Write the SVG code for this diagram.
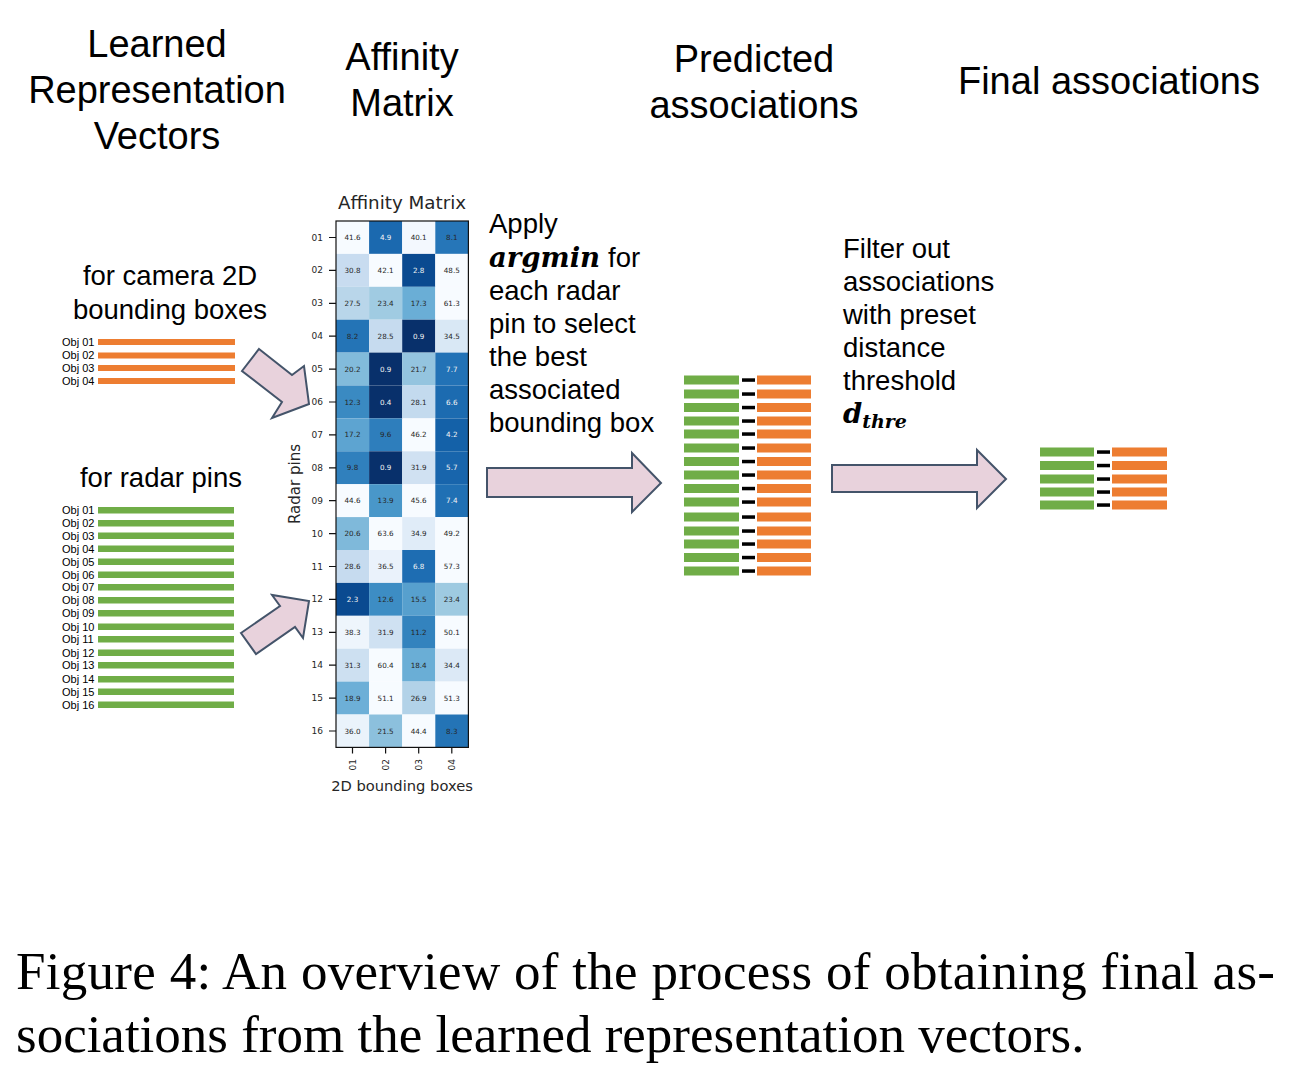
<svg xmlns="http://www.w3.org/2000/svg" width="1295" height="1070" viewBox="0 0 1295 1070">
<style>
.h{font-family:"Liberation Sans",Arial,sans-serif;font-size:38px;fill:#000;text-anchor:middle}
.t{font-family:"Liberation Sans",Arial,sans-serif;font-size:27.5px;fill:#000}
.m{font-family:"DejaVu Serif",serif;font-weight:bold;font-style:italic;fill:#000}
.ob{font-family:"Liberation Sans",Arial,sans-serif;font-size:11px;fill:#000}
.og{fill:#ed7d31}
.gr{fill:#70ad47}
.ds{fill:#000}
.mp{font-family:"DejaVu Sans",sans-serif;fill:#262626}
.tk{font-size:9px}
.cv{font-size:7.2px;text-anchor:middle;dominant-baseline:central}
.wt{fill:#f4f4f4}
.arr{fill:#e8d2dc;stroke:#44546a;stroke-width:2;stroke-linejoin:miter}
.cap{font-family:"Liberation Serif","Times New Roman",serif;font-size:53px;fill:#000}
</style>

<g id="headings">
<text class="h" x="157" y="57">Learned</text>
<text class="h" x="157" y="103">Representation</text>
<text class="h" x="157" y="149">Vectors</text>
<text class="h" x="402" y="70">Affinity</text>
<text class="h" x="402" y="116">Matrix</text>
<text class="h" x="754" y="72">Predicted</text>
<text class="h" x="754" y="118">associations</text>
<text class="h" x="1109" y="94">Final associations</text>
</g>

<g id="camera-boxes">
<text class="t" x="170" y="285" text-anchor="middle">for camera 2D</text>
<text class="t" x="170" y="319" text-anchor="middle">bounding boxes</text>
<text class="ob" x="62" y="346">Obj 01</text><rect class="og" x="98" y="339" width="137" height="6"/>
<text class="ob" x="62" y="359">Obj 02</text><rect class="og" x="98" y="352.5" width="137" height="6"/>
<text class="ob" x="62" y="372">Obj 03</text><rect class="og" x="98" y="365" width="137" height="6"/>
<text class="ob" x="62" y="385">Obj 04</text><rect class="og" x="98" y="378" width="137" height="6"/>
</g>

<g id="radar-pins">
<text class="t" x="161" y="487" text-anchor="middle">for radar pins</text>
<text class="ob" x="62" y="514">Obj 01</text><rect class="gr" x="98" y="507" width="136" height="6.5"/>
<text class="ob" x="62" y="527">Obj 02</text><rect class="gr" x="98" y="520" width="136" height="6.5"/>
<text class="ob" x="62" y="540">Obj 03</text><rect class="gr" x="98" y="532.5" width="136" height="6.5"/>
<text class="ob" x="62" y="553">Obj 04</text><rect class="gr" x="98" y="545.5" width="136" height="6.5"/>
<text class="ob" x="62" y="566">Obj 05</text><rect class="gr" x="98" y="558.5" width="136" height="6.5"/>
<text class="ob" x="62" y="579">Obj 06</text><rect class="gr" x="98" y="571.5" width="136" height="6.5"/>
<text class="ob" x="62" y="591">Obj 07</text><rect class="gr" x="98" y="584" width="136" height="6.5"/>
<text class="ob" x="62" y="604">Obj 08</text><rect class="gr" x="98" y="597" width="136" height="6.5"/>
<text class="ob" x="62" y="617">Obj 09</text><rect class="gr" x="98" y="610" width="136" height="6.5"/>
<text class="ob" x="62" y="631">Obj 10</text><rect class="gr" x="98" y="623.5" width="136" height="6.5"/>
<text class="ob" x="62" y="643">Obj 11</text><rect class="gr" x="98" y="636" width="136" height="6.5"/>
<text class="ob" x="62" y="657">Obj 12</text><rect class="gr" x="98" y="649.5" width="136" height="6.5"/>
<text class="ob" x="62" y="669">Obj 13</text><rect class="gr" x="98" y="662" width="136" height="6.5"/>
<text class="ob" x="62" y="683">Obj 14</text><rect class="gr" x="98" y="676" width="136" height="6.5"/>
<text class="ob" x="62" y="696">Obj 15</text><rect class="gr" x="98" y="688.5" width="136" height="6.5"/>
<text class="ob" x="62" y="709">Obj 16</text><rect class="gr" x="98" y="701.5" width="136" height="6.5"/>
</g>

<g id="affinity-matrix">
<text class="mp" x="402" y="209" font-size="18.3" text-anchor="middle">Affinity Matrix</text>
<g id="cells">
<rect x="336" y="221" width="33.1" height="32.9" fill="#f7fbff"/><rect x="369.1" y="221" width="33.1" height="32.9" fill="#1b69af"/><rect x="402.2" y="221" width="33.1" height="32.9" fill="#f3f8fe"/><rect x="435.3" y="221" width="33.1" height="32.9" fill="#2676b8"/>
<rect x="336" y="253.9" width="33.1" height="32.9" fill="#c8dcf0"/><rect x="369.1" y="253.9" width="33.1" height="32.9" fill="#f7fbff"/><rect x="402.2" y="253.9" width="33.1" height="32.9" fill="#0a4a90"/><rect x="435.3" y="253.9" width="33.1" height="32.9" fill="#f7fbff"/>
<rect x="336" y="286.8" width="33.1" height="32.9" fill="#b9d6ea"/><rect x="369.1" y="286.8" width="33.1" height="32.9" fill="#a0cbe2"/><rect x="402.2" y="286.8" width="33.1" height="32.9" fill="#6aaed6"/><rect x="435.3" y="286.8" width="33.1" height="32.9" fill="#f7fbff"/>
<rect x="336" y="319.7" width="33.1" height="32.9" fill="#2474b6"/><rect x="369.1" y="319.7" width="33.1" height="32.9" fill="#c6dbef"/><rect x="402.2" y="319.7" width="33.1" height="32.9" fill="#08306b"/><rect x="435.3" y="319.7" width="33.1" height="32.9" fill="#d9e8f5"/>
<rect x="336" y="352.6" width="33.1" height="32.9" fill="#82bbdb"/><rect x="369.1" y="352.6" width="33.1" height="32.9" fill="#08306b"/><rect x="402.2" y="352.6" width="33.1" height="32.9" fill="#94c4df"/><rect x="435.3" y="352.6" width="33.1" height="32.9" fill="#2272b6"/>
<rect x="336" y="385.5" width="33.1" height="32.9" fill="#3a8ac2"/><rect x="369.1" y="385.5" width="33.1" height="32.9" fill="#08306b"/><rect x="402.2" y="385.5" width="33.1" height="32.9" fill="#c3daee"/><rect x="435.3" y="385.5" width="33.1" height="32.9" fill="#1c6bb0"/>
<rect x="336" y="418.4" width="33.1" height="32.9" fill="#5da4d1"/><rect x="369.1" y="418.4" width="33.1" height="32.9" fill="#2e7ebc"/><rect x="402.2" y="418.4" width="33.1" height="32.9" fill="#f7fbff"/><rect x="435.3" y="418.4" width="33.1" height="32.9" fill="#1461a8"/>
<rect x="336" y="451.3" width="33.1" height="32.9" fill="#3080bd"/><rect x="369.1" y="451.3" width="33.1" height="32.9" fill="#08306b"/><rect x="402.2" y="451.3" width="33.1" height="32.9" fill="#d0e1f2"/><rect x="435.3" y="451.3" width="33.1" height="32.9" fill="#1865ac"/>
<rect x="336" y="484.2" width="33.1" height="32.9" fill="#f7fbff"/><rect x="369.1" y="484.2" width="33.1" height="32.9" fill="#4997c9"/><rect x="402.2" y="484.2" width="33.1" height="32.9" fill="#f7fbff"/><rect x="435.3" y="484.2" width="33.1" height="32.9" fill="#2070b4"/>
<rect x="336" y="517.1" width="33.1" height="32.9" fill="#7fb9da"/><rect x="369.1" y="517.1" width="33.1" height="32.9" fill="#f7fbff"/><rect x="402.2" y="517.1" width="33.1" height="32.9" fill="#e0ecf8"/><rect x="435.3" y="517.1" width="33.1" height="32.9" fill="#f7fbff"/>
<rect x="336" y="550" width="33.1" height="32.9" fill="#c6dbef"/><rect x="369.1" y="550" width="33.1" height="32.9" fill="#eaf2fb"/><rect x="402.2" y="550" width="33.1" height="32.9" fill="#1e6db2"/><rect x="435.3" y="550" width="33.1" height="32.9" fill="#f7fbff"/>
<rect x="336" y="582.9" width="33.1" height="32.9" fill="#0a4a90"/><rect x="369.1" y="582.9" width="33.1" height="32.9" fill="#3d8dc4"/><rect x="402.2" y="582.9" width="33.1" height="32.9" fill="#57a0ce"/><rect x="435.3" y="582.9" width="33.1" height="32.9" fill="#9ecae1"/>
<rect x="336" y="615.8" width="33.1" height="32.9" fill="#eef5fc"/><rect x="369.1" y="615.8" width="33.1" height="32.9" fill="#cfe1f2"/><rect x="402.2" y="615.8" width="33.1" height="32.9" fill="#3383be"/><rect x="435.3" y="615.8" width="33.1" height="32.9" fill="#f7fbff"/>
<rect x="336" y="648.7" width="33.1" height="32.9" fill="#cde0f1"/><rect x="369.1" y="648.7" width="33.1" height="32.9" fill="#f7fbff"/><rect x="402.2" y="648.7" width="33.1" height="32.9" fill="#6aaed6"/><rect x="435.3" y="648.7" width="33.1" height="32.9" fill="#dce9f6"/>
<rect x="336" y="681.6" width="33.1" height="32.9" fill="#6dafd7"/><rect x="369.1" y="681.6" width="33.1" height="32.9" fill="#f7fbff"/><rect x="402.2" y="681.6" width="33.1" height="32.9" fill="#b2d2e8"/><rect x="435.3" y="681.6" width="33.1" height="32.9" fill="#f7fbff"/>
<rect x="336" y="714.5" width="33.1" height="32.9" fill="#eaf3fb"/><rect x="369.1" y="714.5" width="33.1" height="32.9" fill="#8cc0dd"/><rect x="402.2" y="714.5" width="33.1" height="32.9" fill="#f7fbff"/><rect x="435.3" y="714.5" width="33.1" height="32.9" fill="#2474b6"/>
</g>
<g id="cell-values" class="mp cv">
<text x="352.5" y="237.5">41.6</text><text class="wt" x="385.6" y="237.5">4.9</text><text x="418.7" y="237.5">40.1</text><text x="451.8" y="237.5">8.1</text>
<text x="352.5" y="270.4">30.8</text><text x="385.6" y="270.4">42.1</text><text class="wt" x="418.7" y="270.4">2.8</text><text x="451.8" y="270.4">48.5</text>
<text x="352.5" y="303.3">27.5</text><text x="385.6" y="303.3">23.4</text><text x="418.7" y="303.3">17.3</text><text x="451.8" y="303.3">61.3</text>
<text x="352.5" y="336.2">8.2</text><text x="385.6" y="336.2">28.5</text><text class="wt" x="418.7" y="336.2">0.9</text><text x="451.8" y="336.2">34.5</text>
<text x="352.5" y="369.1">20.2</text><text class="wt" x="385.6" y="369.1">0.9</text><text x="418.7" y="369.1">21.7</text><text class="wt" x="451.8" y="369.1">7.7</text>
<text x="352.5" y="402">12.3</text><text class="wt" x="385.6" y="402">0.4</text><text x="418.7" y="402">28.1</text><text class="wt" x="451.8" y="402">6.6</text>
<text x="352.5" y="434.9">17.2</text><text x="385.6" y="434.9">9.6</text><text x="418.7" y="434.9">46.2</text><text class="wt" x="451.8" y="434.9">4.2</text>
<text x="352.5" y="467.8">9.8</text><text class="wt" x="385.6" y="467.8">0.9</text><text x="418.7" y="467.8">31.9</text><text class="wt" x="451.8" y="467.8">5.7</text>
<text x="352.5" y="500.7">44.6</text><text x="385.6" y="500.7">13.9</text><text x="418.7" y="500.7">45.6</text><text class="wt" x="451.8" y="500.7">7.4</text>
<text x="352.5" y="533.6">20.6</text><text x="385.6" y="533.6">63.6</text><text x="418.7" y="533.6">34.9</text><text x="451.8" y="533.6">49.2</text>
<text x="352.5" y="566.5">28.6</text><text x="385.6" y="566.5">36.5</text><text class="wt" x="418.7" y="566.5">6.8</text><text x="451.8" y="566.5">57.3</text>
<text class="wt" x="352.5" y="599.4">2.3</text><text x="385.6" y="599.4">12.6</text><text x="418.7" y="599.4">15.5</text><text x="451.8" y="599.4">23.4</text>
<text x="352.5" y="632.3">38.3</text><text x="385.6" y="632.3">31.9</text><text x="418.7" y="632.3">11.2</text><text x="451.8" y="632.3">50.1</text>
<text x="352.5" y="665.2">31.3</text><text x="385.6" y="665.2">60.4</text><text x="418.7" y="665.2">18.4</text><text x="451.8" y="665.2">34.4</text>
<text x="352.5" y="698.1">18.9</text><text x="385.6" y="698.1">51.1</text><text x="418.7" y="698.1">26.9</text><text x="451.8" y="698.1">51.3</text>
<text x="352.5" y="731">36.0</text><text x="385.6" y="731">21.5</text><text x="418.7" y="731">44.4</text><text x="451.8" y="731">8.3</text>
</g>
<rect x="336" y="221" width="132.4" height="526.4" fill="none" stroke="#111" stroke-width="1.2"/>
<g id="y-ticks" stroke="#111" stroke-width="1.2">
<path d="M329 237.5h7M329 270.4h7M329 303.3h7M329 336.2h7M329 369.1h7M329 402h7M329 434.9h7M329 467.8h7M329 500.7h7M329 533.6h7M329 566.5h7M329 599.4h7M329 632.3h7M329 665.2h7M329 698.1h7M329 731h7"/>
<path d="M352.5 747.4v6M385.6 747.4v6M418.7 747.4v6M451.8 747.4v6"/>
</g>
<g class="mp tk" text-anchor="end" dominant-baseline="central">
<text x="323" y="237.5">01</text><text x="323" y="270.4">02</text><text x="323" y="303.3">03</text><text x="323" y="336.2">04</text>
<text x="323" y="369.1">05</text><text x="323" y="402">06</text><text x="323" y="434.9">07</text><text x="323" y="467.8">08</text>
<text x="323" y="500.7">09</text><text x="323" y="533.6">10</text><text x="323" y="566.5">11</text><text x="323" y="599.4">12</text>
<text x="323" y="632.3">13</text><text x="323" y="665.2">14</text><text x="323" y="698.1">15</text><text x="323" y="731">16</text>
</g>
<g class="mp tk" text-anchor="end">
<text transform="translate(355.8 759) rotate(-90)">01</text>
<text transform="translate(388.9 759) rotate(-90)">02</text>
<text transform="translate(422 759) rotate(-90)">03</text>
<text transform="translate(455.1 759) rotate(-90)">04</text>
</g>
<text class="mp" font-size="15" text-anchor="middle" transform="translate(300 484) rotate(-90)">Radar pins</text>
<text class="mp" font-size="14.7" text-anchor="middle" x="402" y="791">2D bounding boxes</text>
</g>

<g id="apply-text">
<text class="t" x="489" y="233">Apply</text>
<text x="489" y="267"><tspan class="m" font-size="27.5">argmin</tspan><tspan class="t" x="608">for</tspan></text>
<text class="t" x="489" y="300">each radar</text>
<text class="t" x="489" y="333">pin to select</text>
<text class="t" x="489" y="366">the best</text>
<text class="t" x="489" y="399">associated</text>
<text class="t" x="489" y="432">bounding box</text>
</g>

<g id="predicted-associations">
<g class="gr"><rect x="684" y="375.5" width="55" height="9"/><rect x="684" y="389.5" width="55" height="9"/><rect x="684" y="403" width="55" height="9"/><rect x="684" y="416.5" width="55" height="9"/><rect x="684" y="429.5" width="55" height="9"/><rect x="684" y="443.5" width="55" height="9"/><rect x="684" y="457" width="55" height="9"/><rect x="684" y="470.5" width="55" height="9"/><rect x="684" y="484" width="55" height="9"/><rect x="684" y="497.5" width="55" height="9"/><rect x="684" y="512.5" width="55" height="9"/><rect x="684" y="526.5" width="55" height="9"/><rect x="684" y="539.5" width="55" height="9"/><rect x="684" y="553" width="55" height="9"/><rect x="684" y="566.5" width="55" height="9"/></g>
<g class="ds"><rect x="742" y="378.3" width="13" height="3.5"/><rect x="742" y="392.3" width="13" height="3.5"/><rect x="742" y="405.8" width="13" height="3.5"/><rect x="742" y="419.3" width="13" height="3.5"/><rect x="742" y="432.3" width="13" height="3.5"/><rect x="742" y="446.3" width="13" height="3.5"/><rect x="742" y="459.8" width="13" height="3.5"/><rect x="742" y="473.3" width="13" height="3.5"/><rect x="742" y="486.8" width="13" height="3.5"/><rect x="742" y="500.3" width="13" height="3.5"/><rect x="742" y="515.3" width="13" height="3.5"/><rect x="742" y="529.3" width="13" height="3.5"/><rect x="742" y="542.3" width="13" height="3.5"/><rect x="742" y="555.8" width="13" height="3.5"/><rect x="742" y="569.3" width="13" height="3.5"/></g>
<g class="og"><rect x="757" y="375.5" width="54" height="9"/><rect x="757" y="389.5" width="54" height="9"/><rect x="757" y="403" width="54" height="9"/><rect x="757" y="416.5" width="54" height="9"/><rect x="757" y="429.5" width="54" height="9"/><rect x="757" y="443.5" width="54" height="9"/><rect x="757" y="457" width="54" height="9"/><rect x="757" y="470.5" width="54" height="9"/><rect x="757" y="484" width="54" height="9"/><rect x="757" y="497.5" width="54" height="9"/><rect x="757" y="512.5" width="54" height="9"/><rect x="757" y="526.5" width="54" height="9"/><rect x="757" y="539.5" width="54" height="9"/><rect x="757" y="553" width="54" height="9"/><rect x="757" y="566.5" width="54" height="9"/></g>
</g>

<g id="filter-text">
<text class="t" x="843" y="258">Filter out</text>
<text class="t" x="843" y="291">associations</text>
<text class="t" x="843" y="324">with preset</text>
<text class="t" x="843" y="357">distance</text>
<text class="t" x="843" y="390">threshold</text>
<text class="m" x="843" y="423" font-size="27.5">d<tspan font-size="19" dy="5">thre</tspan></text>
</g>

<g id="final-associations">
<g class="gr"><rect x="1040" y="447.5" width="54" height="9"/><rect x="1040" y="461" width="54" height="9"/><rect x="1040" y="474.5" width="54" height="9"/><rect x="1040" y="487.5" width="54" height="9"/><rect x="1040" y="500.5" width="54" height="9"/></g>
<g class="ds"><rect x="1097" y="450.3" width="13" height="3.5"/><rect x="1097" y="463.8" width="13" height="3.5"/><rect x="1097" y="477.3" width="13" height="3.5"/><rect x="1097" y="490.3" width="13" height="3.5"/><rect x="1097" y="503.3" width="13" height="3.5"/></g>
<g class="og"><rect x="1112" y="447.5" width="55" height="9"/><rect x="1112" y="461" width="55" height="9"/><rect x="1112" y="474.5" width="55" height="9"/><rect x="1112" y="487.5" width="55" height="9"/><rect x="1112" y="500.5" width="55" height="9"/></g>
</g>

<g id="connectors">
<polygon class="arr" points="259,349 292,375 304,366 309,404 272,418 282,402 242,371"/>
<polygon class="arr" points="241,633 280,606 272,595 309,601 303,638 295,627 256,654"/>
<polygon class="arr" points="487,468 632,468 632,453 661,483 632,512 632,497 487,497"/>
<polygon class="arr" points="832,465 977,465 977,450 1006,479 977,508 977,492 832,492"/>
</g>

<g id="caption">
<text class="cap" x="16" y="989" textLength="1259" lengthAdjust="spacing">Figure 4:  An overview of the process of obtaining final as-</text>
<text class="cap" x="16" y="1052">sociations from the learned representation vectors.</text>
</g>
</svg>
